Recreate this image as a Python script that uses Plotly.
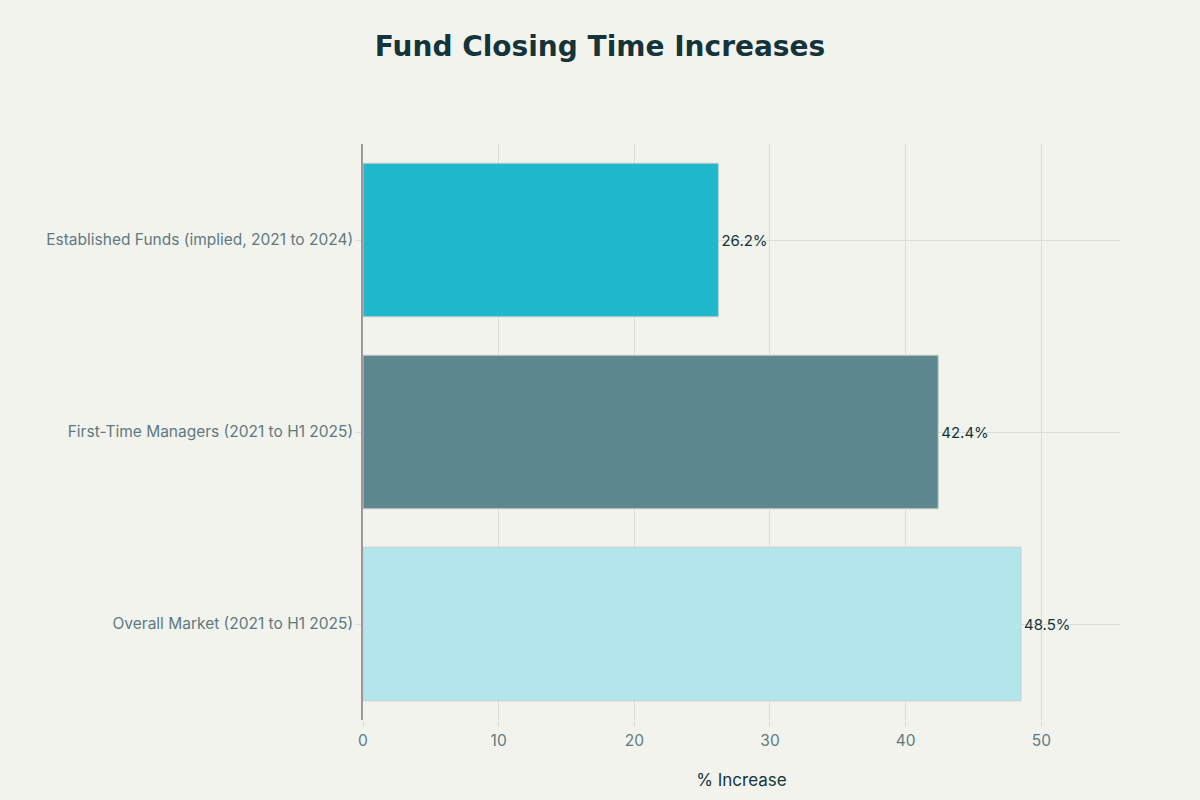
import plotly.graph_objects as go

categories = [
    "Overall Market (2021 to H1 2025)",
    "First-Time Managers (2021 to H1 2025)",
    "Established Funds (implied, 2021 to 2024)",
]
values = [48.5, 42.4, 26.2]
colors = ["#B3E5EC", "#5D878F", "#1FB8CD"]
labels = [f"{v}%" for v in values]

fig = go.Figure(
    go.Bar(
        x=values,
        y=categories,
        orientation="h",
        marker=dict(color=colors, line=dict(color="#C8CCC8", width=1)),
        text=labels,
        textposition="outside",
        textfont=dict(color="#13343B", size=15),
        cliponaxis=False,
        hoverinfo="skip",
    )
)

fig.update_layout(
    width=1200,
    height=800,
    paper_bgcolor="#F3F3EE",
    plot_bgcolor="#F3F3EE",
    font=dict(family="Inter, Liberation Sans, sans-serif", color="#5D7A80", size=15.5),
    title=dict(
        text="<b>Fund Closing Time Increases</b>",
        x=0.5,
        xanchor="center",
        y=0.955,
        font=dict(family="DejaVu Sans, sans-serif", size=28, color="#13343B"),
    ),
    margin=dict(l=363, r=80, t=144, b=80),
    bargap=0.2,
    showlegend=False,
)

fig.update_xaxes(
    range=[0, 55.8],
    tickvals=[0, 10, 20, 30, 40, 50],
    showgrid=True,
    gridcolor="#DCDCD6",
    gridwidth=1,
    zeroline=False,
    ticks="outside",
    ticklen=6,
    tickcolor="#DCDCD6",
    tickfont=dict(size=15.5, color="#5D7A80"),
    title=dict(text="% Increase", font=dict(size=17, color="#13343B"), standoff=25),
)
fig.update_yaxes(
    showgrid=True,
    gridcolor="#DCDCD6",
    showline=True,
    linecolor="#999999",
    linewidth=1.5,
    ticks="outside",
    ticklen=5,
    tickcolor="#DCDCD6",
    tickfont=dict(size=15.5, color="#5D7A80"),
)

fig.write_html(
    "out.html",
    config={"displayModeBar": False},
    post_script="document.body.style.margin='0';document.body.style.background='#F3F3EE';",
)
